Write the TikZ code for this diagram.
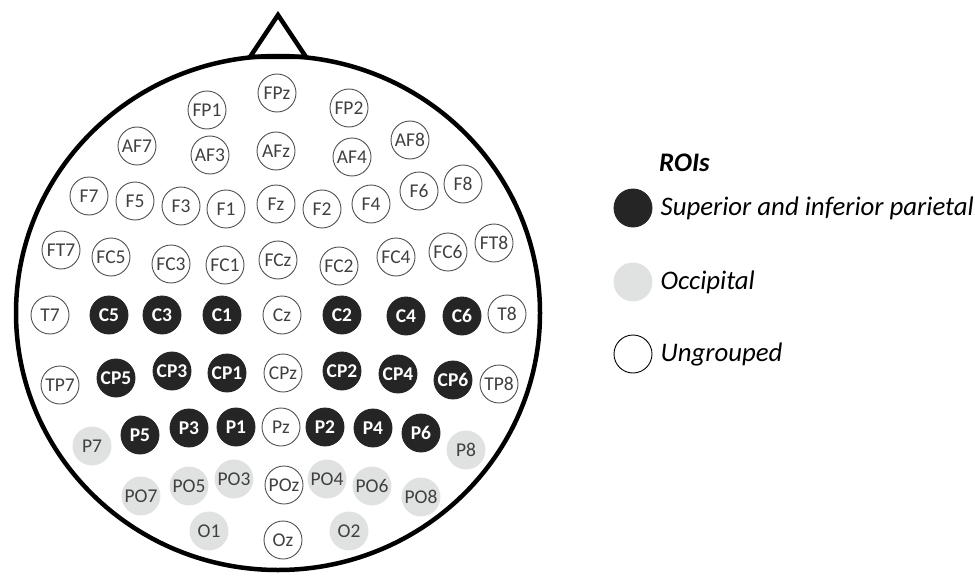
\documentclass[tikz,border=0pt]{standalone}
\usepackage{fontspec}
\setmainfont{Carlito}
\usetikzlibrary{positioning}

\definecolor{roidark}{HTML}{252525}
\definecolor{occgray}{HTML}{E0E1E1}
\definecolor{rimgray}{HTML}{505050}
\definecolor{labgray}{HTML}{404040}

\newcommand{\elecfont}{\fontsize{19.5}{19.5}\selectfont}
\newcommand{\legfont}{\fontsize{26.8}{28}\selectfont}

\tikzset{
  elec/.style={circle, draw=rimgray, line width=0.9pt, minimum size=38pt,
    inner sep=0pt, text=labgray, font=\elecfont},
  roi/.style={elec, fill=roidark, draw=roidark, text=white, font=\elecfont\bfseries},
  occ/.style={elec, fill=occgray, draw=occgray, text=labgray},
  keytext/.style={anchor=west, inner sep=0pt, font=\legfont\itshape},
}

\begin{document}
\begin{tikzpicture}[x=1pt, y=-1pt]
  \useasboundingbox (0,0) rectangle (975,578);

  % Head and nose
  \draw[line width=4.5pt] (278,313) ellipse [x radius=262pt, y radius=257pt];
  \draw[line width=4.5pt, line join=miter] (250,57) -- (278,15) -- (306,57) -- cycle;

  % Frontal
  \node[elec] (FPz) at (277,93) {FPz};
  \node[elec] (FP1) at (207,110) {FP1};
  \node[elec] (FP2) at (349,108) {FP2};
  \node[elec] (AF7) at (137,146) {AF7};
  \node[elec] (AF3) at (210,155) {AF3};
  \node[elec] (AFz) at (276,151) {AFz};
  \node[elec] (AF4) at (352,157) {AF4};
  \node[elec] (AF8) at (410,140) {AF8};
  \node[elec] (F7) at (89,196) {F7};
  \node[elec] (F5) at (135,201) {F5};
  \node[elec] (F3) at (181,206) {F3};
  \node[elec] (F1) at (226,209) {F1};
  \node[elec] (Fz) at (276,204) {Fz};
  \node[elec] (F2) at (322,209) {F2};
  \node[elec] (F4) at (371,204) {F4};
  \node[elec] (F6) at (419,191) {F6};
  \node[elec] (F8) at (463,184) {F8};
  \node[elec] (FT7) at (61,250) {FT7};
  \node[elec] (FC5) at (111,257) {FC5};
  \node[elec] (FC3) at (171,264) {FC3};
  \node[elec] (FC1) at (225,265) {FC1};
  \node[elec] (FCz) at (278,260) {FCz};
  \node[elec] (FC2) at (339,266) {FC2};
  \node[elec] (FC4) at (396,257) {FC4};
  \node[elec] (FC6) at (448,252) {FC6};
  \node[elec] (FT8) at (494,243) {FT8};

  % Central
  \node[elec] (T7) at (50,315) {T7};
  \node[roi] (C5) at (109,315) {C5};
  \node[roi] (C3) at (162,315) {C3};
  \node[roi] (C1) at (222,315) {C1};
  \node[elec] (Cz) at (282,315) {Cz};
  \node[roi] (C2) at (342,315) {C2};
  \node[roi] (C4) at (406,316) {C4};
  \node[roi] (C6) at (462,316) {C6};
  \node[elec] (T8) at (507,314) {T8};
  \node[elec] (TP7) at (60,385) {TP7};
  \node[roi] (CP5) at (116,378) {CP5};
  \node[roi] (CP3) at (172,371) {CP3};
  \node[roi] (CP1) at (227,373) {CP1};
  \node[elec] (CPz) at (283,373) {CPz};
  \node[roi] (CP2) at (342,371) {CP2};
  \node[roi] (CP4) at (398,374) {CP4};
  \node[roi] (CP6) at (453,380) {CP6};
  \node[elec] (TP8) at (499,384) {TP8};

  % Parietal and occipital
  \node[occ] (P7) at (92,446) {P7};
  \node[roi] (P5) at (140,435) {P5};
  \node[roi] (P3) at (189,428) {P3};
  \node[roi] (P1) at (236,427) {P1};
  \node[elec] (Pz) at (281,427) {Pz};
  \node[roi] (P2) at (325,427) {P2};
  \node[roi] (P4) at (373,428) {P4};
  \node[roi] (P6) at (421,433) {P6};
  \node[occ] (P8) at (466,450) {P8};
  \node[occ] (PO7) at (141,496) {PO7};
  \node[occ] (PO5) at (189,486) {PO5};
  \node[occ] (PO3) at (234,479) {PO3};
  \node[elec] (POz) at (284,485) {POz};
  \node[occ] (PO4) at (327,479) {PO4};
  \node[occ] (PO6) at (372,486) {PO6};
  \node[occ] (PO8) at (421,497) {PO8};
  \node[occ] (O1) at (209,531) {O1};
  \node[elec] (Oz) at (283,540) {Oz};
  \node[occ] (O2) at (349,531) {O2};

  % Legend
  \node[keytext, font=\legfont\bfseries\itshape] (roititle) at (659,163) {ROIs};
  \node[roi] (keyroi) at (633,208) {};
  \node[occ] (keyocc) at (633,282) {};
  \node[elec, draw=black] (keynone) at (633,354) {};
  \node[keytext, right=8pt of keyroi] (roitext) {Superior and inferior parietal};
  \node[keytext, right=8pt of keyocc] (occtext) {Occipital};
  \node[keytext, right=8pt of keynone] (nonetext) {Ungrouped};
\end{tikzpicture}
\end{document}
